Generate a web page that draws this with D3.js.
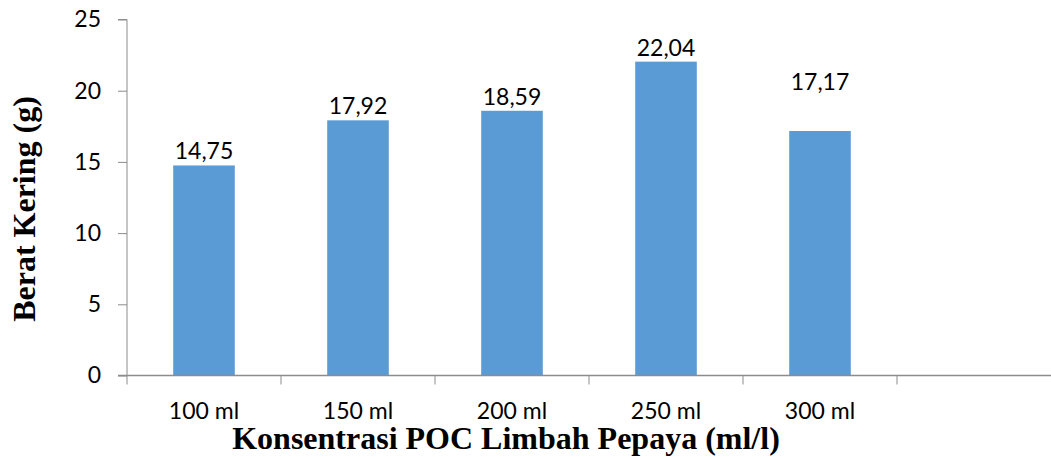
<!DOCTYPE html>
<html>
<head>
<meta charset="utf-8">
<script src="https://cdn.jsdelivr.net/npm/d3@7"></script>
<style>
  html, body { margin: 0; padding: 0; background: #fff; }
  svg { display: block; }
</style>
</head>
<body>
<script>
// Dry weight per concentration of papaya-waste liquid organic fertilizer
const categories = ["100 ml", "150 ml", "200 ml", "250 ml", "300 ml", ""];
const values = [14.75, 17.92, 18.59, 22.04, 17.17];
const valueLabels = ["14,75", "17,92", "18,59", "22,04", "17,17"];
const yTicks = [0, 5, 10, 15, 20, 25];

const W = 1051, H = 457;
const margin = { left: 127, right: 0, top: 19.5, bottom: 81.5 };

const svg = d3.select("body").append("svg")
  .attr("width", W).attr("height", H);

const x = d3.scaleBand()
  .domain(categories.map((c, i) => i))
  .range([margin.left, W - margin.right])
  .paddingInner(0.6).paddingOuter(0.3);

// category boundaries for the x tick marks
const step = (W - margin.right - margin.left) / categories.length;

const y = d3.scaleLinear().domain([0, 25]).range([H - margin.bottom, margin.top]);

const axisColor = "#8c8c8c";
const tickFont = "Lato, 'Open Sans', sans-serif";

// bars
svg.append("g").selectAll("rect").data(values).join("rect")
  .attr("x", (d, i) => x(i))
  .attr("width", x.bandwidth())
  .attr("y", d => y(d))
  .attr("height", d => y(0) - y(d))
  .attr("fill", "#5b9bd5");

// value labels; the last one sits higher above its bar
const labelLift = { 4: 41 };
svg.append("g").selectAll("text").data(values).join("text")
  .attr("x", (d, i) => x(i) + x.bandwidth() / 2)
  .attr("y", (d, i) => y(d) - (labelLift[i] || 6))
  .attr("text-anchor", "middle")
  .attr("font-family", tickFont)
  .attr("font-size", 23)
  .attr("fill", "#000")
  .text((d, i) => valueLabels[i]);

// y axis
const yAxis = svg.append("g")
  .attr("transform", `translate(${margin.left},0)`)
  .call(d3.axisLeft(y).tickValues(yTicks).tickSize(9).tickPadding(17).tickFormat(d3.format("d")));
yAxis.select(".domain").attr("stroke", axisColor).attr("d", `M-9,${y(25)}H0V${y(0)}`);
yAxis.selectAll(".tick line").attr("stroke", axisColor);
yAxis.selectAll(".tick text")
  .attr("font-family", tickFont).attr("font-size", 23).attr("fill", "#000");

// x axis: category boundary ticks and centred labels
const xa = svg.append("g").attr("transform", `translate(0,${y(0)})`);
xa.append("line")
  .attr("x1", margin.left - 9).attr("x2", W)
  .attr("stroke", axisColor).attr("stroke-width", 1.5);
xa.selectAll("line.tk").data(d3.range(categories.length)).join("line")
  .attr("class", "tk")
  .attr("x1", i => margin.left + i * step).attr("x2", i => margin.left + i * step)
  .attr("y1", 0).attr("y2", 9)
  .attr("stroke", axisColor);
xa.selectAll("text").data(categories).join("text")
  .attr("x", (d, i) => x(i) + x.bandwidth() / 2)
  .attr("y", 43.5)
  .attr("text-anchor", "middle")
  .attr("font-family", tickFont).attr("font-size", 23).attr("fill", "#000")
  .text(d => d);

// axis titles
svg.append("text")
  .attr("x", 506).attr("y", 448.5)
  .attr("text-anchor", "middle")
  .attr("font-family", "'Liberation Serif', 'Times New Roman', serif")
  .attr("font-weight", "bold").attr("font-size", 32)
  .text("Konsentrasi POC Limbah Pepaya (ml/l)");

svg.append("text")
  .attr("transform", "translate(35,209) rotate(-90)")
  .attr("text-anchor", "middle")
  .attr("font-family", "'Liberation Serif', 'Times New Roman', serif")
  .attr("font-weight", "bold").attr("font-size", 32)
  .text("Berat Kering (g)");
</script>
</body>
</html>
